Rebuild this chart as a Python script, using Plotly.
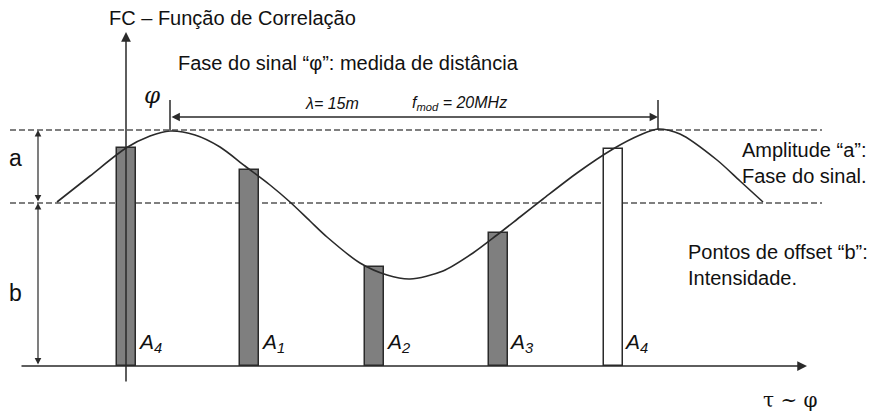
import plotly.graph_objects as go

# curve FC, x ~ tau, y ~ correlation value
curva_x = [57, 90, 126, 150, 170, 195, 220, 245, 270, 290, 310, 327, 360, 387, 410,
           443, 473, 497, 520, 543, 577, 613, 640, 658, 680, 717, 740, 763]
curva_y = [164, 190, 218, 230, 235, 231, 219, 200, 181, 164, 145, 129, 103, 91, 87,
           95, 113, 131, 149, 167, 193, 217, 231, 237, 232, 206, 185, 164]

# amostras A4, A1, A2, A3, A4
barras_x = [126.5, 249.5, 374.5, 498.5, 613]
barras_y = [218, 196, 99, 133, 217]
barras_nome = ["A<sub>4</sub>", "A<sub>1</sub>", "A<sub>2</sub>", "A<sub>3</sub>", "A<sub>4</sub>"]
barras_cor = ["#7f7f7f", "#7f7f7f", "#7f7f7f", "#7f7f7f", "white"]

# niveis
nivel_topo = 236      # b + a
nivel_b = 163         # offset b
pico1 = 170
pico2 = 658

fonte = "Liberation Sans, Arial"
escuro = "#2a2a2a"

fig = go.Figure()

fig.add_trace(go.Bar(x=barras_x, y=barras_y, width=19,
                     marker=dict(color=barras_cor, line=dict(color=escuro, width=1.5)),
                     showlegend=False, hoverinfo="skip"))

fig.add_trace(go.Scatter(x=curva_x, y=curva_y, mode="lines",
                         line=dict(color=escuro, width=1.6, shape="spline", smoothing=0.8),
                         showlegend=False, hoverinfo="skip"))

# linhas tracejadas
for nivel in [nivel_topo, nivel_b]:
    fig.add_shape(type="line", x0=10, x1=822, y0=nivel, y1=nivel, xref="x", yref="y",
                  line=dict(color="#555555", width=1.6, dash="6px,3px"), layer="below")

# marcas verticais nos picos
for p in [pico1, pico2]:
    fig.add_shape(type="line", x0=p, x1=p, y0=nivel_topo, y1=266, xref="x", yref="y",
                  line=dict(color=escuro, width=1.5))

def seta(x0, y0, x1, y1, lado="end", largura=1.5, tam=1.3):
    fig.add_annotation(x=x1, y=y1, ax=x0, ay=y0, xref="x", yref="y", axref="x", ayref="y",
                       text="", showarrow=True, arrowhead=2, startarrowhead=2,
                       arrowside=lado, arrowsize=tam, startarrowsize=tam,
                       arrowwidth=largura, arrowcolor=escuro, standoff=0, startstandoff=0)

# eixos
seta(20, 0, 807, 0)
seta(126, -17, 126, 334)
# lambda
seta(pico1, 249, pico2, 249, lado="end+start", largura=1.4, tam=1.2)
# a e b
seta(38, nivel_b, 38, nivel_topo, lado="end+start", largura=1.2, tam=1.1)
seta(38, 0, 38, nivel_b, lado="end+start", largura=1.2, tam=1.1)

def texto(x, y, t, tam=20, fam=fonte, cor="#111111", xa="center", alinhar="left"):
    fig.add_annotation(x=x, y=y, xref="x", yref="y", text=t, showarrow=False,
                       xanchor=xa, yanchor="middle", align=alinhar,
                       font=dict(family=fam, size=tam, color=cor))

texto(232, 348, "FC – Função de Correlação")
texto(348, 303, "Fase do sinal “φ”: medida de distância")
texto(152, 271, "<i>φ</i>", tam=23, fam="DejaVu Serif")
texto(332, 263, "<i>λ= 15m</i>", tam=16)
texto(459, 263, "<i>f<sub>mod</sub> = 20MHz</i>", tam=16)
texto(15, 208, "a", tam=23)
texto(15, 73, "b", tam=23)
texto(740, 203, "Amplitude “a”:<br>Fase do sinal.", xa="left")
texto(686, 101, "Pontos de offset “b”:<br>Intensidade.", xa="left")
texto(790, -34, "τ ~ φ", tam=20, fam="DejaVu Serif")

for bx, nome in zip(barras_x, barras_nome):
    texto(bx + 23, 23, "<i>" + nome + "</i>", tam=21)

# a pagina tem 8px de margem no body: compensar no intervalo dos eixos
fig.update_layout(width=879, height=415, margin=dict(l=0, r=0, t=0, b=0),
                  paper_bgcolor="white", plot_bgcolor="white",
                  xaxis=dict(range=[8, 887], visible=False, fixedrange=True),
                  yaxis=dict(range=[-57, 358], visible=False, fixedrange=True),
                  bargap=0)

fig.write_html("out.html")
